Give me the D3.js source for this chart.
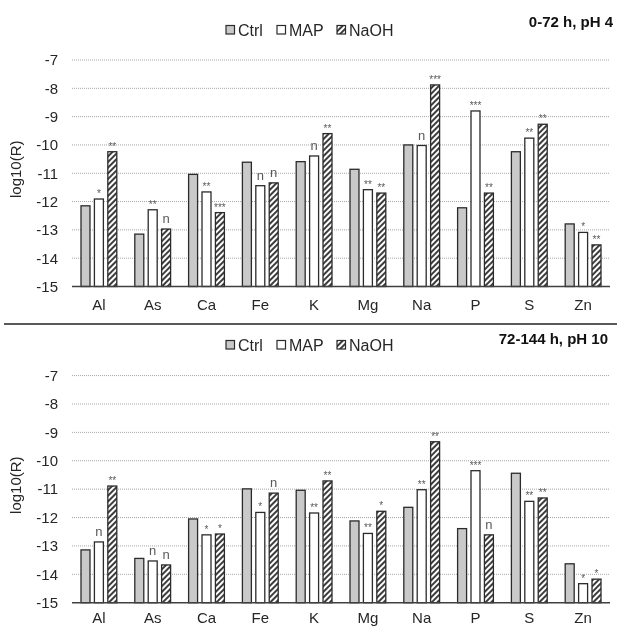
<!DOCTYPE html>
<html>
<head>
<meta charset="utf-8">
<script src="https://cdn.jsdelivr.net/npm/d3@7"></script>
<style>
  html, body { margin: 0; padding: 0; background: #fff; }
  svg { display: block; font-family: "Liberation Sans", Arial, sans-serif; will-change: transform; }
</style>
</head>
<body>
<svg id="chart" width="617" height="627"></svg>
<script>
// Elements and treatments
const elements = ["Al", "As", "Ca", "Fe", "K", "Mg", "Na", "P", "S", "Zn"];
const treatments = ["Ctrl", "MAP", "NaOH"];
const yTicks = [-7, -8, -9, -10, -11, -12, -13, -14, -15];

// 0-72 h, pH 4 : log10(R)
const ph4Ctrl = [-12.15, -13.15, -11.04, -10.61, -10.59, -10.86, -10.00, -12.22, -10.24, -12.79];
const ph4Map  = [-11.91, -12.29, -11.66, -11.44, -10.39, -11.58, -10.02, -8.80, -9.76, -13.09];
const ph4NaOH = [-10.24, -12.97, -12.39, -11.34, -9.60, -11.70, -7.88, -11.70, -9.27, -13.53];
const ph4MapSig  = ["*", "**", "**", "n", "n", "**", "n", "***", "**", "*"];
const ph4NaOHSig = ["**", "n", "***", "n", "**", "**", "***", "**", "**", "**"];

// 72-144 h, pH 10 : log10(R)
const ph10Ctrl = [-13.14, -13.44, -12.05, -10.99, -11.04, -12.12, -11.64, -12.39, -10.44, -13.63];
const ph10Map  = [-12.86, -13.53, -12.61, -11.82, -11.84, -12.56, -11.02, -10.35, -11.43, -14.33];
const ph10NaOH = [-10.89, -13.67, -12.58, -11.14, -10.71, -11.78, -9.33, -12.61, -11.31, -14.17];
const ph10MapSig  = ["n", "n", "*", "*", "**", "**", "**", "***", "**", "*"];
const ph10NaOHSig = ["**", "n", "*", "n", "**", "*", "**", "n", "**", "*"];

const svg = d3.select("#chart");

// Diagonal hatch for NaOH bars
const defs = svg.append("defs");
const pat = defs.append("pattern")
  .attr("id", "hatch")
  .attr("patternUnits", "userSpaceOnUse")
  .attr("width", 4).attr("height", 4)
  .attr("patternTransform", "rotate(45)");
pat.append("rect").attr("width", 4).attr("height", 4).attr("fill", "#fff");
pat.append("line").attr("x1", 1).attr("y1", 0).attr("x2", 1).attr("y2", 4)
  .attr("stroke", "#1a1a1a").attr("stroke-width", 1.7);

const fills = { Ctrl: "#c9c9c9", MAP: "#ffffff", NaOH: "url(#hatch)" };
const textCol = "#262626";

function drawPanel(opt) {
  const g = svg.append("g");
  const x0 = d3.scaleBand().domain(elements).range([72, 610]);
  const x1 = d3.scaleBand().domain(treatments).range([-17.9, 17.9]).paddingInner(0.33);
  const y = d3.scaleLinear().domain([-15, -7]).range([opt.bottom, opt.top]);

  // dotted gridlines
  g.append("g").selectAll("line")
    .data(yTicks.filter(t => t > -15))
    .join("line")
    .attr("x1", 72).attr("x2", 610)
    .attr("y1", d => y(d)).attr("y2", d => y(d))
    .attr("stroke", "#a6a6a6").attr("stroke-width", 1)
    .attr("stroke-dasharray", "1,1");

  // y axis labels
  const yAxis = d3.axisLeft(y).tickValues(yTicks).tickSize(0).tickPadding(0)
    .tickFormat(d => d3.format("d")(d).replace("−", "-"));
  const ya = g.append("g").attr("transform", "translate(58,0)").call(yAxis);
  ya.select(".domain").remove();
  ya.selectAll("text").attr("font-size", 15).attr("fill", textCol)
    .attr("font-family", "Liberation Sans, Arial, sans-serif");

  // y title
  g.append("text")
    .attr("transform", `translate(21,${(opt.top + opt.bottom) / 2 - 4}) rotate(-90)`)
    .attr("text-anchor", "middle")
    .attr("font-size", 15).attr("fill", textCol)
    .text("log10(R)");

  // bars
  const rows = elements.map((el, i) => ({
    el,
    vals: [
      { t: "Ctrl", v: opt.ctrl[i], sig: "" },
      { t: "MAP", v: opt.map[i], sig: opt.mapSig[i] },
      { t: "NaOH", v: opt.naoh[i], sig: opt.naohSig[i] }
    ]
  }));
  const grp = g.append("g").selectAll("g")
    .data(rows).join("g")
    .attr("transform", d => `translate(${x0(d.el) + x0.bandwidth() / 2},0)`);
  grp.selectAll("rect")
    .data(d => d.vals).join("rect")
    .attr("x", d => x1(d.t))
    .attr("width", x1.bandwidth())
    .attr("y", d => y(d.v))
    .attr("height", d => y(-15) - y(d.v))
    .attr("fill", d => fills[d.t])
    .attr("stroke", "#2b2b2b").attr("stroke-width", 1.3);

  // significance marks
  grp.selectAll("text.sig")
    .data(d => d.vals.filter(v => v.sig))
    .join("text").attr("class", "sig")
    .attr("x", d => x1(d.t) + x1.bandwidth() / 2)
    .attr("y", d => y(d.v) - (d.sig === "n" ? 6 : 2))
    .attr("text-anchor", "middle")
    .attr("font-size", d => d.sig === "n" ? 13 : 10)
    .attr("fill", "#595959")
    .text(d => d.sig);

  // category axis
  g.append("line")
    .attr("x1", 72).attr("x2", 610)
    .attr("y1", y(-15)).attr("y2", y(-15))
    .attr("stroke", "#404040").attr("stroke-width", 1.6);
  g.append("g").selectAll("text")
    .data(elements).join("text")
    .attr("x", d => x0(d) + x0.bandwidth() / 2)
    .attr("y", y(-15) + opt.labelGap)
    .attr("text-anchor", "middle")
    .attr("font-size", 15).attr("fill", textCol)
    .text(d => d);

  // legend
  const legX = [226, 277, 337];
  const leg = g.append("g").selectAll("g")
    .data(treatments).join("g")
    .attr("transform", (d, i) => `translate(${legX[i]},${opt.legendY})`);
  leg.append("rect")
    .attr("x", 0).attr("y", -4.5).attr("width", 8.5).attr("height", 8.5)
    .attr("fill", d => fills[d]).attr("stroke", "#2b2b2b").attr("stroke-width", 1.2);
  leg.append("text")
    .attr("x", 12).attr("y", 0).attr("dy", "0.36em")
    .attr("font-size", 16).attr("fill", textCol)
    .text(d => d);

  // panel title
  g.append("text")
    .attr("x", opt.titleX).attr("y", opt.titleY).attr("dy", "0.36em")
    .attr("text-anchor", "end")
    .attr("font-size", 15).attr("font-weight", "bold").attr("fill", "#111")
    .text(opt.title);
}

drawPanel({
  top: 60, bottom: 286.5, legendY: 30, titleX: 613, titleY: 22, labelGap: 23,
  title: "0-72 h, pH 4",
  ctrl: ph4Ctrl, map: ph4Map, naoh: ph4NaOH, mapSig: ph4MapSig, naohSig: ph4NaOHSig
});

// divider between panels
svg.append("line")
  .attr("x1", 4).attr("x2", 617).attr("y1", 324).attr("y2", 324)
  .attr("stroke", "#595959").attr("stroke-width", 2);

drawPanel({
  top: 375.6, bottom: 602.7, legendY: 345, titleX: 608, titleY: 339, labelGap: 20,
  title: "72-144 h, pH 10",
  ctrl: ph10Ctrl, map: ph10Map, naoh: ph10NaOH, mapSig: ph10MapSig, naohSig: ph10NaOHSig
});
</script>
</body>
</html>
